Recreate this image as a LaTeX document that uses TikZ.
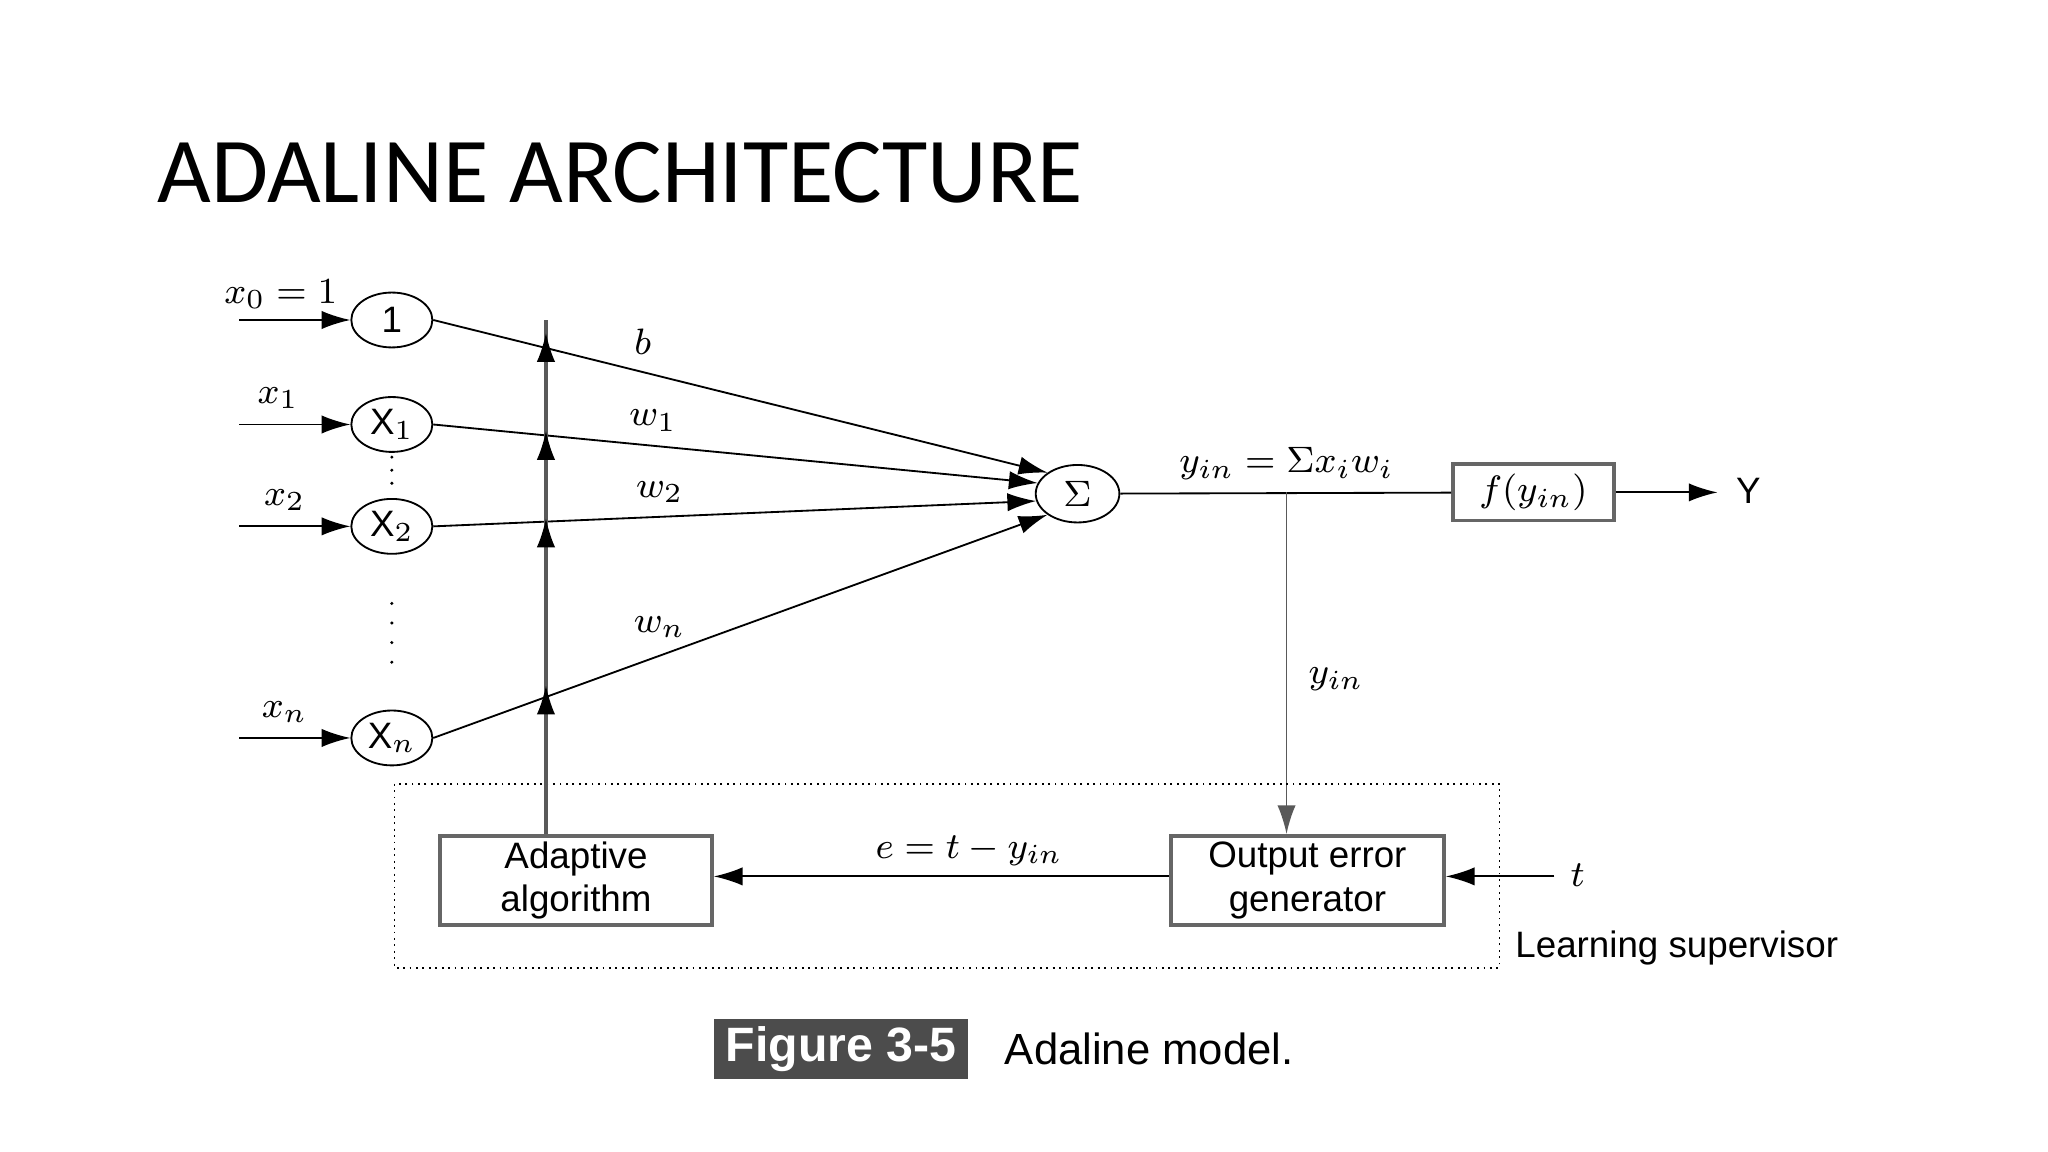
\documentclass[tikz,border=0pt]{standalone}
\usepackage{amsmath,amssymb}
\usepackage{fontspec}
\setmainfont{Liberation Sans}
\newfontfamily\titlefont{Carlito}
\usetikzlibrary{shapes.geometric,arrows.meta}
\begin{document}
\begin{tikzpicture}[x=0.01cm,y=-0.01cm,font=\fontsize{8}{9.5}\selectfont,
  neuron/.style={draw,ellipse,minimum width=0.62cm,minimum height=0.42cm,inner sep=0pt},
  blk/.style={draw,thick,gray!80!black,text=black,align=center,inner sep=0pt},
  arr/.style={-{Latex[length=2.2mm,width=1.4mm]}},
  lbl/.style={inner sep=1pt}]
\useasboundingbox (0,0) rectangle (1568,882);
\node[anchor=base west,font=\titlefont\fontsize{20.2}{24}\selectfont,inner sep=0pt] at (120,155) {ADALINE ARCHITECTURE};
% inputs
\node[neuron] (one) at (300,245) {1};
\node[neuron] (x1) at (300,325) {X$_1$};
\node[neuron] (x2) at (300,403) {X$_2$};
\node[neuron] (xn) at (300,565) {X$_n$};
\foreach \n/\y/\t/\lx in {one/245/{$x_0=1$}/215, x1/325/{$x_1$}/213, x2/403/{$x_2$}/218, xn/565/{$x_n$}/218}{
  \coordinate (in-\n) at (183,\y);
  \draw[arr] (in-\n) -- (\n);
  \node[lbl] at (\lx,\y-20) {\t};
}
\foreach \y in {350,360,370,462,477,492,507} \fill (300,\y) circle (1.3);
% summing node
\node[neuron,minimum width=0.64cm,minimum height=0.44cm] (sum) at (825,378) {$\Sigma$};
\draw[arr] (one.east) -- (sum.145);
\draw[arr] (x1.east) -- (sum.165);
\draw[arr] (x2.east) -- (sum.190);
\draw[arr] (xn.east) -- (sum.215);
\node[lbl] at (492,262) {$b$};
\node[lbl] at (500,322) {$w_1$};
\node[lbl] at (505,377) {$w_2$};
\node[lbl] at (505,480) {$w_n$};
% output
\node[blk,minimum width=1.23cm,minimum height=0.43cm] (f) at (1174,377) {$f(y_{in})$};
\coordinate (Y) at (1315,377);
\draw (sum) -- (f);
\draw[arr] (f) -- (Y);
\node[anchor=west,lbl] at (1325,376) {Y};
\node[lbl] at (985,355) {$y_{in}=\Sigma x_i w_i$};
% learning supervisor
\node[blk,minimum width=2.08cm,minimum height=0.68cm] (adapt) at (441,674) {Adaptive\\algorithm};
\node[blk,minimum width=2.09cm,minimum height=0.68cm] (err) at (1001,674) {Output error\\generator};
\coordinate (tap) at (985,377);
\coordinate (t) at (1190,671);
\draw[arr,gray!70!black] (tap) -- (err.north -| tap);
\node[lbl] at (1023,520) {$y_{in}$};
\draw[arr] (err.west |- 0,671) -- (adapt.east |- 0,671);
\node[lbl] at (742,651) {$e=t-y_{in}$};
\draw[arr] (t) -- (err.east |- t);
\node[lbl] at (1208,670) {$t$};
\draw[densely dotted] (302,600) rectangle (1148,741);
\node[anchor=west,lbl] at (1156,726) {Learning supervisor};
% weight update line
\coordinate (top) at (418,245);
\draw[gray!70!black,thick] (adapt.north -| top) -- (top);
\foreach \y in {255,330,397,525} \draw[arr] (418,\y+12) -- (418,\y);
% caption
\node[fill=black!70,text=white,font=\bfseries\fontsize{10.5}{13}\selectfont,minimum width=1.94cm,minimum height=0.46cm,inner sep=0pt] (fig) at (644,803) {Figure 3-5};
\node[anchor=west,font=\fontsize{9.5}{12}\selectfont] at (757,803) {Adaline model.};
\end{tikzpicture}
\end{document}
